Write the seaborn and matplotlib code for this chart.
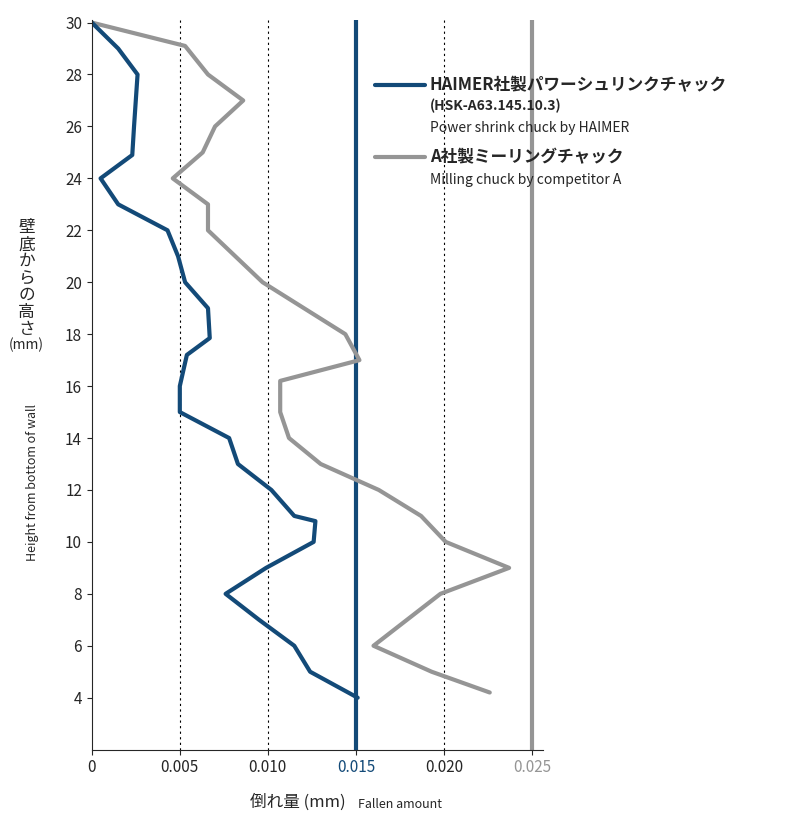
import matplotlib
matplotlib.use("Agg")
import matplotlib.pyplot as plt
import seaborn as sns
import pandas as pd
from matplotlib.lines import Line2D

sns.set_style("ticks")
plt.rcParams['font.family'] = ['Noto Sans CJK JP', 'DejaVu Sans']

haimer_y = [30, 29, 28, 27, 26, 24.9, 24, 23, 22, 21, 20, 19, 17.85, 17.2, 16, 15, 14, 13, 12, 11, 10.8, 10, 9, 8, 7, 6, 5, 4]
haimer_x = [0, 0.0015, 0.0026, 0.0025, 0.0024, 0.0023, 0.0005, 0.0015, 0.0043, 0.0049, 0.0053, 0.0066, 0.0067, 0.0054, 0.005, 0.005, 0.0078, 0.0083, 0.0102, 0.0115, 0.0127, 0.0126, 0.0099, 0.0076, 0.0095, 0.0115, 0.0124, 0.0151]
compA_y = [30, 29.1, 28, 27, 26, 25, 24, 23, 22, 20, 18, 17, 16.2, 15, 14, 13, 12, 11, 10, 9, 8, 7, 6, 5, 4.2]
compA_x = [0, 0.0053, 0.0066, 0.0086, 0.007, 0.0063, 0.0046, 0.0066, 0.0066, 0.0097, 0.0144, 0.0152, 0.0107, 0.0107, 0.0112, 0.013, 0.0163, 0.0187, 0.0201, 0.0237, 0.0198, 0.0179, 0.016, 0.0193, 0.0226]
x_ticks = [0, 0.005, 0.010, 0.015, 0.020, 0.025]
x_labels = ["0", "0.005", "0.010", "0.015", "0.020", "0.025"]
y_ticks = [4, 6, 8, 10, 12, 14, 16, 18, 20, 22, 24, 26, 28, 30]

blue = "#134a78"
grey = "#959595"

fig = plt.figure(figsize=(8.05, 8.32), dpi=100)
ax = fig.add_axes([0.114, 0.099, 0.56, 0.877])

dfh = pd.DataFrame({"x": haimer_x, "y": haimer_y})
dfa = pd.DataFrame({"x": compA_x, "y": compA_y})
sns.lineplot(data=dfa, x="x", y="y", sort=False, estimator=None, color=grey, lw=3, ax=ax)
sns.lineplot(data=dfh, x="x", y="y", sort=False, estimator=None, color=blue, lw=3, ax=ax)

for v in [0.005, 0.010, 0.020]:
    ax.axvline(v, color="black", ls=(0, (2, 3)), lw=0.8, zorder=0)
ax.axvline(0.015, color=blue, lw=3, zorder=1)
ax.axvline(0.025, color=grey, lw=3, zorder=1)

ax.set_xlim(0, 0.0256)
ax.set_ylim(2, 30.1)
ax.set_xticks(x_ticks)
ax.set_xticklabels(x_labels, fontsize=11)
ax.set_yticks(y_ticks)
ax.set_yticklabels([str(t) for t in y_ticks], fontsize=11)
ax.get_xticklabels()[3].set_color(blue)
ax.get_xticklabels()[5].set_color(grey)
sns.despine(ax=ax)
ax.set_xlabel("")
ax.set_ylabel("")

fig.text(0.37, 0.025, "倒れ量 (mm)", fontsize=12, ha="center", va="bottom")
fig.text(0.445, 0.025, "Fallen amount", fontsize=9, ha="left", va="bottom")
fig.text(0.033, 0.665, "\n".join("壁底からの高さ"), fontsize=12, ha="center", va="center", linespacing=1.0)
fig.text(0.033, 0.585, "(mm)", fontsize=10, ha="center", va="center")
fig.text(0.040, 0.42, "Height from bottom of wall", fontsize=9, rotation=90, ha="center", va="center")

ax.add_line(Line2D([0.466, 0.528], [0.898, 0.898], transform=fig.transFigure, color=blue, lw=3))
fig.text(0.534, 0.898, "HAIMER社製パワーシュリンクチャック", fontsize=12, weight="bold", va="center")
fig.text(0.534, 0.873, "(HSK-A63.145.10.3)", fontsize=10, weight="bold", va="center")
fig.text(0.534, 0.846, "Power shrink chuck by HAIMER", fontsize=10, va="center")
ax.add_line(Line2D([0.466, 0.528], [0.811, 0.811], transform=fig.transFigure, color=grey, lw=3))
fig.text(0.534, 0.811, "A社製ミーリングチャック", fontsize=12, weight="bold", va="center")
fig.text(0.534, 0.784, "Milling chuck by competitor A", fontsize=10, va="center")

fig.savefig("out.png", dpi=100)
